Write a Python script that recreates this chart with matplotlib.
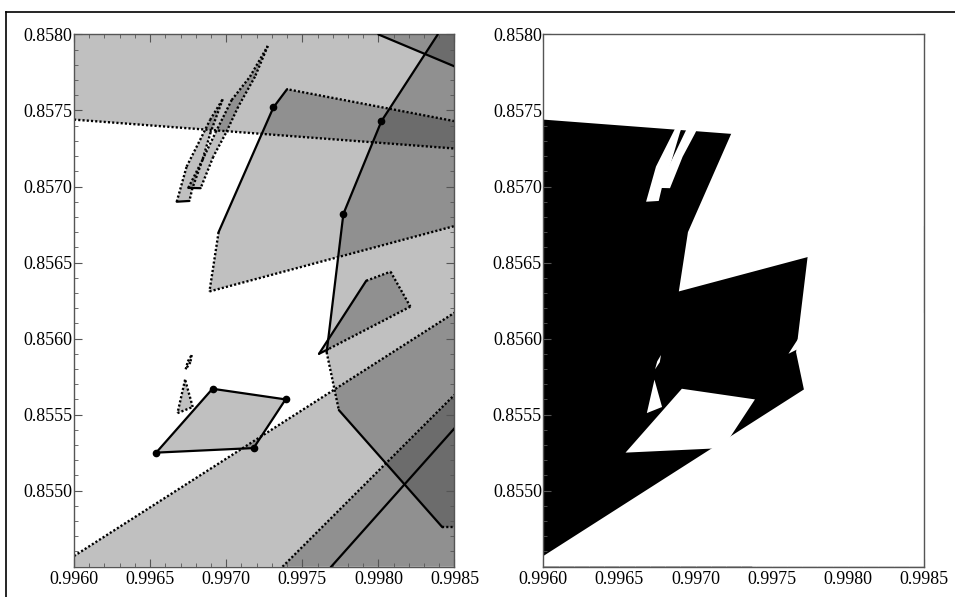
import matplotlib
matplotlib.use("Agg")
import matplotlib.pyplot as plt
from matplotlib.patches import Polygon, Rectangle
from matplotlib.lines import Line2D
from matplotlib.ticker import MultipleLocator, FormatStrFormatter

# plot window
X_LIM = (0.9960, 0.9985)
Y_LIM = (0.8545, 0.8580)

# regions (polygon vertices, data coordinates)
band_x = [0.99600, 0.99850, 0.99850, 0.99600]
band_y = [0.85744, 0.85725, 0.85800, 0.85800]

wedge_x = [0.99740, 0.99731, 0.99695, 0.99689, 0.99850, 0.99850]
wedge_y = [0.85764, 0.85752, 0.85670, 0.85631, 0.85674, 0.85743]

spine_x = [0.99839, 0.99802, 0.99777, 0.99766, 0.99774, 0.99842, 0.99850, 0.99850]
spine_y = [0.85800, 0.85743, 0.85682, 0.85591, 0.85553, 0.85476, 0.85476, 0.85800]

corner_x = [0.99800, 0.99850, 0.99850]
corner_y = [0.85800, 0.85779, 0.85800]

floor_x = [0.99600, 0.99850, 0.99850, 0.99600]
floor_y = [0.85457, 0.85617, 0.85450, 0.85450]

edge_x = [0.99737, 0.99850, 0.99850]
edge_y = [0.85450, 0.85563, 0.85450]

kite_x = [0.99761, 0.99792, 0.99808, 0.99821, 0.99767]
kite_y = [0.85590, 0.85638, 0.85644, 0.85621, 0.85593]

quad_x = [0.99654, 0.99691, 0.99739, 0.99718]
quad_y = [0.85525, 0.85567, 0.85560, 0.85528]

tri_x = [0.99673, 0.99668, 0.99678]
tri_y = [0.85573, 0.85551, 0.85555]

sliver_x = [0.996773, 0.996765, 0.996734, 0.996748]
sliver_y = [0.855892, 0.855845, 0.855798, 0.855850]

strip1_x = [0.996675, 0.996740, 0.996828, 0.996894, 0.996977,
            0.996898, 0.996844, 0.996778, 0.996758]
strip1_y = [0.856900, 0.857131, 0.857306, 0.857438, 0.857574,
            0.857357, 0.857175, 0.856989, 0.856905]

strip2_x = [0.996751, 0.996844, 0.996931, 0.997036, 0.997156, 0.997273,
            0.997189, 0.997079, 0.996997, 0.996915, 0.996832]
strip2_y = [0.856991, 0.857175, 0.857357, 0.857569, 0.857722, 0.857924,
            0.857722, 0.857525, 0.857350, 0.857196, 0.856989]

# a lone boundary line with no fill
cut_x = [0.99769, 0.99850]
cut_y = [0.85450, 0.85541]

# edge codes per polygon side: s = solid, d = dotted, - = none
regions = [
    (band_x, band_y, "d---"),
    (wedge_x, wedge_y, "ssdd-d"),
    (spine_x, spine_y, "sssdsd--"),
    (corner_x, corner_y, "s--"),
    (floor_x, floor_y, "d---"),
    (edge_x, edge_y, "d--"),
    (kite_x, kite_y, "sddds"),
    (quad_x, quad_y, "ssss"),
    (tri_x, tri_y, "ddd"),
    (sliver_x, sliver_y, "dddd"),
    (strip1_x, strip1_y, "dddddddds"),
    (strip2_x, strip2_y, "dddddddddds"),
]

# marked vertices
dots_x = [wedge_x[1], spine_x[1], spine_x[2]] + quad_x
dots_y = [wedge_y[1], spine_y[1], spine_y[2]] + quad_y

plt.rcParams['font.family'] = ['Liberation Serif', 'DejaVu Serif']

fig = plt.figure(figsize=(9.55, 5.97), dpi=100)
ax1 = fig.add_axes([0.0775, 0.0508, 0.3984, 0.8915])
ax2 = fig.add_axes([0.5689, 0.0508, 0.3986, 0.8915])

FRAME = '#555555'


def style_axes(ax):
    ax.set_xlim(*X_LIM)
    ax.set_ylim(*Y_LIM)
    ax.xaxis.set_major_locator(MultipleLocator(0.0005))
    ax.yaxis.set_major_locator(MultipleLocator(0.0005))
    ax.xaxis.set_minor_locator(MultipleLocator(0.0001))
    ax.yaxis.set_minor_locator(MultipleLocator(0.0001))
    ax.xaxis.set_major_formatter(FormatStrFormatter('%.4f'))
    ax.yaxis.set_major_formatter(FormatStrFormatter('%.4f'))
    ax.tick_params(which='both', direction='in', top=True, right=True,
                   color=FRAME, labelsize=13, labelcolor='black')
    ax.tick_params(which='major', length=6, width=0.8)
    ax.tick_params(which='minor', length=3, width=0.6)
    ax.tick_params(axis='x', pad=3)
    ax.tick_params(axis='y', pad=1)
    # 0.8545 sits on the frame corner; leave it unlabeled
    ax.set_yticks([0.8550, 0.8555, 0.8560, 0.8565, 0.8570, 0.8575, 0.8580])
    for s in ax.spines.values():
        s.set_color(FRAME)
        s.set_linewidth(1.0)


# left: overlapping translucent regions with their boundaries
for xs, ys, codes in regions:
    ax1.add_patch(Polygon(list(zip(xs, ys)), closed=True,
                          facecolor=(0, 0, 0, 0.247), edgecolor='none', zorder=1))
    n = len(xs)
    for i, c in enumerate(codes):
        if c == '-':
            continue
        j = (i + 1) % n
        if c == 's':
            ax1.plot([xs[i], xs[j]], [ys[i], ys[j]], color='black',
                     lw=1.6, solid_capstyle='round', zorder=3)
        else:
            ax1.plot([xs[i], xs[j]], [ys[i], ys[j]], color='black',
                     lw=1.7, linestyle=(0, (0.9, 0.9)),
                     dash_capstyle='butt', zorder=2)

ax1.plot(cut_x, cut_y, color='black', lw=1.6, zorder=3)
ax1.plot(dots_x, dots_y, 'o', color='black', ms=4.5, zorder=4)
style_axes(ax1)

# right: the part of the window covered by none of the regions
ax2.add_patch(Rectangle((X_LIM[0], Y_LIM[0]), X_LIM[1] - X_LIM[0],
                        Y_LIM[1] - Y_LIM[0], facecolor='black',
                        edgecolor='none', zorder=1))
for xs, ys, _ in regions:
    ax2.add_patch(Polygon(list(zip(xs, ys)), closed=True,
                          facecolor='white', edgecolor='none', zorder=2))
style_axes(ax2)

# outer frame
fig.add_artist(Line2D([6 / 955, 1.0], [1 - 12 / 597, 1 - 12 / 597],
                      transform=fig.transFigure, color='black', lw=1.2))
fig.add_artist(Line2D([6 / 955, 6 / 955], [0.0, 1 - 12 / 597],
                      transform=fig.transFigure, color='black', lw=1.2))

fig.savefig('out.png', dpi=100)
plt.close(fig)
